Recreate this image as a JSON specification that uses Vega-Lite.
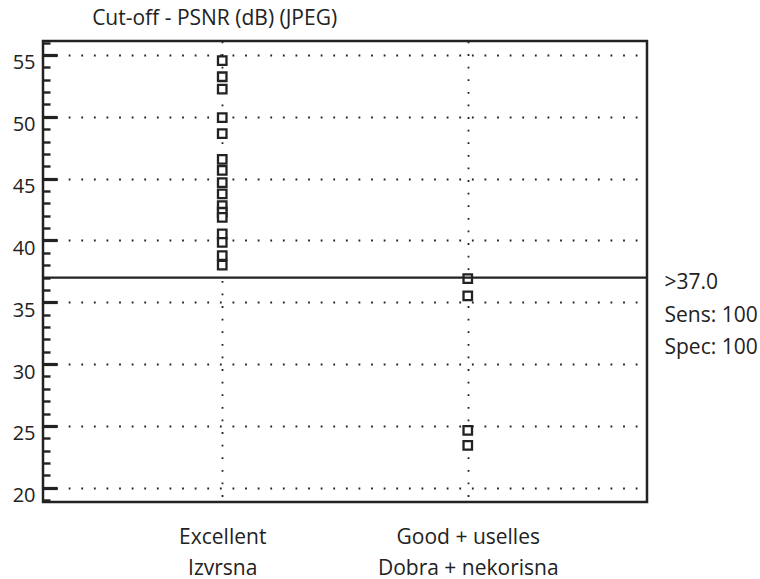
{
  "$schema": "https://vega.github.io/schema/vega-lite/v6.json",
  "width": 604,
  "height": 461,
  "autosize": {"type": "none"},
  "padding": {"left": 43, "top": 41, "right": 113, "bottom": 77},
  "background": "white",
  "config": {
    "view": {"stroke": "#222", "strokeWidth": 2.5},
    "font": "Open Sans",
    "axis": {"labelFont": "Open Sans", "labelColor": "#222", "labelFontSize": 21, "labelLimit": 400}
  },
  "title": {
    "text": "Cut-off - PSNR (dB) (JPEG)",
    "anchor": "start",
    "dx": 80,
    "dy": 18,
    "offset": 13,
    "baseline": "alphabetic",
    "font": "Open Sans",
    "fontSize": 21,
    "fontWeight": "normal",
    "color": "#222"
  },
  "datasets": {
    "points": [
      {"group": "Excellent|Izvrsna", "psnr": 54.54},
      {"group": "Excellent|Izvrsna", "psnr": 53.24},
      {"group": "Excellent|Izvrsna", "psnr": 52.24},
      {"group": "Excellent|Izvrsna", "psnr": 49.94},
      {"group": "Excellent|Izvrsna", "psnr": 48.64},
      {"group": "Excellent|Izvrsna", "psnr": 46.56},
      {"group": "Excellent|Izvrsna", "psnr": 45.67},
      {"group": "Excellent|Izvrsna", "psnr": 44.67},
      {"group": "Excellent|Izvrsna", "psnr": 43.77},
      {"group": "Excellent|Izvrsna", "psnr": 42.82},
      {"group": "Excellent|Izvrsna", "psnr": 42.28},
      {"group": "Excellent|Izvrsna", "psnr": 41.87},
      {"group": "Excellent|Izvrsna", "psnr": 40.53},
      {"group": "Excellent|Izvrsna", "psnr": 39.85},
      {"group": "Excellent|Izvrsna", "psnr": 38.77},
      {"group": "Excellent|Izvrsna", "psnr": 38.01},
      {"group": "Good + uselles|Dobra + nekorisna", "psnr": 36.92},
      {"group": "Good + uselles|Dobra + nekorisna", "psnr": 35.52},
      {"group": "Good + uselles|Dobra + nekorisna", "psnr": 24.64},
      {"group": "Good + uselles|Dobra + nekorisna", "psnr": 23.43}
    ],
    "cutoff": [{"psnr": 37.0}]
  },
  "layer": [
    {
      "data": {"name": "points"},
      "mark": {"type": "point", "shape": "square", "size": 72, "filled": false, "fill": "white", "fillOpacity": 1, "stroke": "#222", "strokeWidth": 2.3, "opacity": 1},
      "encoding": {
        "x": {
          "field": "group",
          "type": "nominal",
          "sort": null,
          "scale": {"type": "point", "padding": 0.73},
          "axis": {
            "title": null,
            "ticks": false,
            "domain": false,
            "grid": true,
            "gridColor": "#222",
            "gridWidth": 1.8,
            "gridDash": [1.8, 10.8],
            "labelAngle": 0,
            "labelExpr": "split(datum.label, '|')",
            "labelLineHeight": 31,
            "labelPadding": 24,
            "labelFontSize": 21,
            "labelLimit": 400
          }
        },
        "y": {
          "field": "psnr",
          "type": "quantitative",
          "scale": {"domain": [18.85, 56.13], "nice": false, "zero": false},
          "axis": {
            "title": null,
            "orient": "left",
            "values": [19, 20, 21, 22, 23, 24, 25, 26, 27, 28, 29, 30, 31, 32, 33, 34, 35, 36, 37, 38, 39, 40, 41, 42, 43, 44, 45, 46, 47, 48, 49, 50, 51, 52, 53, 54, 55, 56],
            "domain": false,
            "labelExpr": "datum.value % 5 === 0 ? datum.label : ''",
            "labelOverlap": false,
            "labelFlush": false,
            "labelOffset": 8,
            "labelPadding": 22,
            "labelFontSize": 20,
            "tickColor": "#222",
            "tickSize": {"condition": {"test": "datum.value % 5 === 0", "value": -14}, "value": -7},
            "tickWidth": {"condition": {"test": "datum.value % 5 === 0", "value": 3.2}, "value": 2.4},
            "grid": true,
            "gridColor": "#222",
            "gridWidth": 1.8,
            "gridDash": [1.8, 10.8],
            "gridOpacity": {"condition": {"test": "datum.value % 5 === 0", "value": 1}, "value": 0}
          }
        }
      }
    },
    {
      "data": {"name": "cutoff"},
      "mark": {"type": "rule", "stroke": "#222", "strokeWidth": 2.2},
      "encoding": {
        "y": {
          "field": "psnr",
          "type": "quantitative",
          "axis": {
            "title": null,
            "orient": "right",
            "values": [37],
            "ticks": false,
            "domain": false,
            "grid": false,
            "labelExpr": "['>37.0', 'Sens: 100', 'Spec: 100']",
            "labelBaseline": "top",
            "labelAlign": "left",
            "labelLineHeight": 32.5,
            "labelPadding": 17,
            "labelOffset": -6,
            "labelFlush": false,
            "labelOverlap": false,
            "labelFontSize": 21,
            "labelLimit": 400
          }
        }
      }
    }
  ],
  "resolve": {"axis": {"y": "independent"}}
}
